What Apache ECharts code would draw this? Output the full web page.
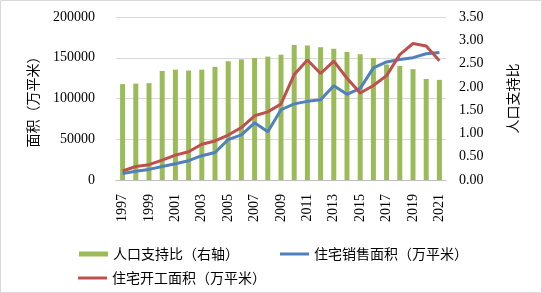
<!DOCTYPE html>
<html>
<head>
<meta charset="utf-8">
<script src="https://cdn.jsdelivr.net/npm/echarts@6/dist/echarts.min.js"></script>
<style>
  html, body { margin: 0; padding: 0; background: #fff; }
  #chart { width: 542px; height: 293px; }
</style>
</head>
<body>
<div id="chart"></div>
<script>
// 住宅销售/开工面积与人口支持比
var years = ['1997', '1998', '1999', '2000', '2001', '2002', '2003', '2004', '2005', '2006',
    '2007', '2008', '2009', '2010', '2011', '2012', '2013', '2014', '2015', '2016',
    '2017', '2018', '2019', '2020', '2021'];

// 人口支持比（右轴）
var supportRatio = [2.06, 2.07, 2.08, 2.34, 2.37, 2.35, 2.37, 2.43, 2.55, 2.59,
    2.62, 2.65, 2.69, 2.90, 2.89, 2.85, 2.82, 2.75, 2.70, 2.62,
    2.48, 2.45, 2.38, 2.17, 2.15];

// 住宅销售面积（万平米）
var salesArea = [7900, 10800, 13000, 16600, 19900, 23700, 29800, 33800, 49600, 55400,
    70100, 59300, 86200, 93400, 96500, 98500, 115700, 105200, 112400, 137500,
    144800, 147900, 150100, 154900, 156500];

// 住宅开工面积（万平米）
var startArea = [11000, 16600, 18800, 24400, 30500, 34700, 43900, 47900, 55200, 64400,
    78800, 83600, 93300, 129400, 147200, 130700, 145800, 124900, 106700, 115900,
    128100, 153800, 167500, 164300, 146400];

var serif = "'Liberation Serif', 'DejaVu Serif', 'Noto Sans CJK SC', serif";
var cjk = "'Noto Sans CJK SC', sans-serif";

var dom = document.getElementById('chart');
var myChart = echarts.init(dom, null, { renderer: 'canvas' });

function legendAt(left, top, h, name) {
    return {
        left: left,
        top: top,
        itemWidth: 29,
        itemHeight: h,
        textStyle: { fontFamily: cjk, fontSize: 14, color: '#000' },
        data: [{ name: name, icon: 'rect' }]
    };
}

var option = {
    animation: false,
    backgroundColor: '#fff',
    grid: {
        left: 116,
        right: 96,
        top: 17,
        bottom: 113
    },
    graphic: [{
        type: 'rect',
        shape: { x: 0.5, y: 0.5, width: 541, height: 292 },
        style: { fill: 'none', stroke: '#d9d9d9', lineWidth: 1 },
        silent: true
    }],
    legend: [
        legendAt(74, 242, 5, '人口支持比（右轴）'),
        legendAt(275, 242, 3, '住宅销售面积（万平米）'),
        legendAt(73, 266, 3, '住宅开工面积（万平米）')
    ],
    xAxis: {
        type: 'category',
        data: years,
        boundaryGap: true,
        axisLine: { lineStyle: { color: '#bfbfbf', width: 1 } },
        axisTick: { interval: 1, length: 5, lineStyle: { color: '#bfbfbf' } },
        axisLabel: {
            interval: 1,
            rotate: 90,
            margin: 14,
            color: '#000',
            fontFamily: serif,
            fontSize: 14
        }
    },
    yAxis: [{
        type: 'value',
        min: 0,
        max: 200000,
        interval: 50000,
        name: '面积（万平米）',
        nameLocation: 'middle',
        nameRotate: 90,
        nameGap: 76,
        nameTextStyle: { fontFamily: cjk, fontSize: 14, color: '#000' },
        axisLine: { show: false },
        axisTick: { show: false },
        axisLabel: {
            margin: 21,
            color: '#000',
            fontFamily: serif,
            fontSize: 14,
            formatter: function (v) { return String(v); }
        },
        splitLine: { lineStyle: { color: '#d9d9d9', width: 1 } }
    }, {
        type: 'value',
        min: 0,
        max: 3.5,
        interval: 0.5,
        name: '人口支持比',
        nameLocation: 'middle',
        nameRotate: 90,
        nameGap: 60,
        nameTextStyle: { fontFamily: cjk, fontSize: 14, color: '#000' },
        axisLine: { show: false },
        axisTick: { show: false },
        splitLine: { show: false },
        axisLabel: {
            margin: 13,
            color: '#000',
            fontFamily: serif,
            fontSize: 14,
            formatter: function (v) { return v.toFixed(2); }
        }
    }],
    series: [{
        name: '人口支持比（右轴）',
        type: 'bar',
        yAxisIndex: 1,
        barWidth: 5,
        itemStyle: { color: '#9bbb59' },
        data: supportRatio
    }, {
        name: '住宅销售面积（万平米）',
        type: 'line',
        yAxisIndex: 0,
        symbol: 'none',
        lineStyle: { color: '#4f81bd', width: 3 },
        itemStyle: { color: '#4f81bd' },
        z: 3,
        data: salesArea
    }, {
        name: '住宅开工面积（万平米）',
        type: 'line',
        yAxisIndex: 0,
        symbol: 'none',
        lineStyle: { color: '#c0504d', width: 3 },
        itemStyle: { color: '#c0504d' },
        z: 4,
        data: startArea
    }]
};

if (option && typeof option === 'object') {
    myChart.setOption(option);
}
</script>
</body>
</html>
